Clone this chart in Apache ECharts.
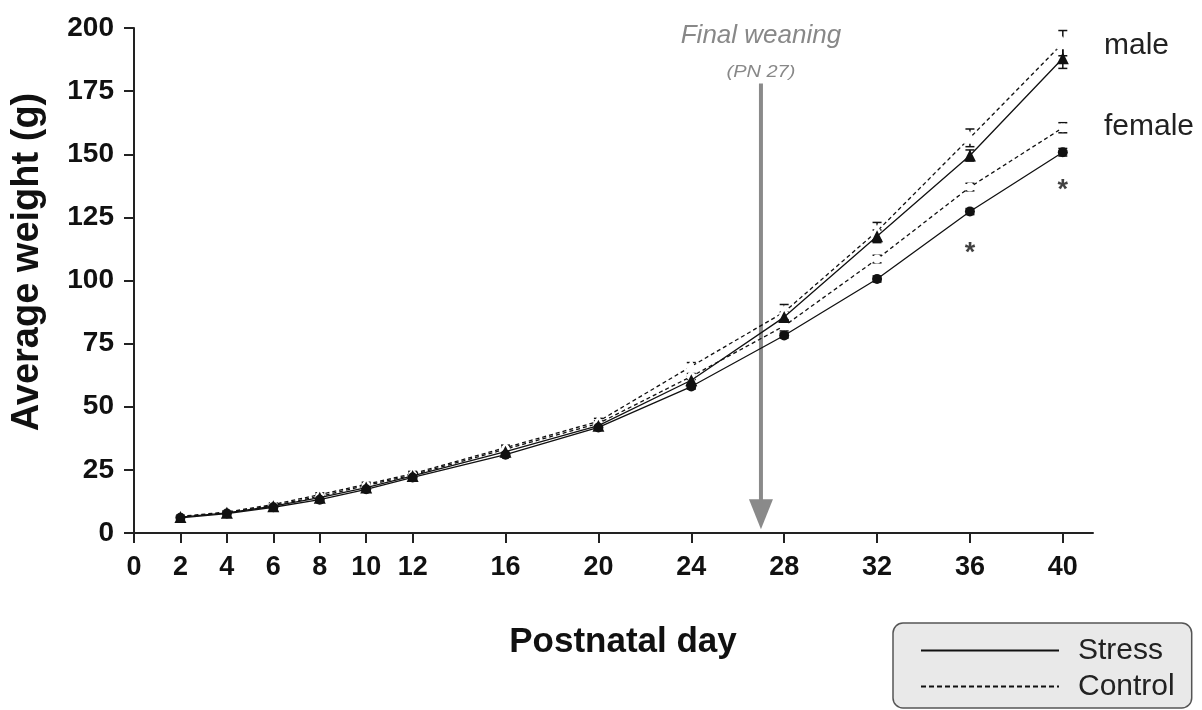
<!DOCTYPE html>
<html>
<head>
<meta charset="utf-8">
<script src="https://cdn.jsdelivr.net/npm/echarts@6/dist/echarts.min.js"></script>
<style>
  html, body { margin: 0; padding: 0; background: #fff; }
  #chart { width: 1202px; height: 710px; }
</style>
</head>
<body>
<div id="chart"></div>
<script>
// Postnatal days sampled and the labelled ticks on the day axis
const days = [2, 4, 6, 8, 10, 12, 16, 20, 24, 28, 32, 36, 40];
const dayTicks = [0, 2, 4, 6, 8, 10, 12, 16, 20, 24, 28, 32, 36, 40];

// Mean body weight (g) and SEM per group
const maleStress       = [6.3, 8.0, 10.6, 14.0, 18.0, 22.6, 32.2, 42.5, 60.5, 85.5, 117.5, 149.5, 188.0];
const maleStressErr    = [0.4, 0.4, 0.5, 0.6, 0.7, 0.8, 1.0, 1.2, 1.5, 2.0, 2.5, 2.2, 4.0];
const maleControl      = [6.6, 8.3, 11.3, 15.2, 19.3, 23.5, 33.8, 44.2, 66.0, 87.5, 119.5, 156.5, 194.0];
const maleControlErr   = [0.4, 0.5, 0.6, 0.7, 0.8, 0.9, 1.0, 1.2, 1.5, 3.0, 3.5, 3.5, 5.0];
const femaleStress     = [6.0, 7.7, 10.2, 13.2, 17.3, 22.0, 31.0, 41.8, 58.0, 78.2, 100.6, 127.3, 150.8];
const femaleStressErr  = [0.3, 0.3, 0.4, 0.5, 0.6, 0.7, 0.8, 1.0, 1.0, 1.0, 1.2, 1.2, 1.5];
const femaleControl    = [6.4, 8.0, 10.9, 14.5, 18.8, 23.0, 33.2, 43.4, 62.0, 82.0, 108.5, 137.0, 160.5];
const femaleControlErr = [0.3, 0.4, 0.5, 0.5, 0.6, 0.7, 0.8, 1.0, 1.2, 2.0, 1.5, 1.5, 2.0];

// Significance marks (day, weight)
const significance = [[36, 113], [40, 138]];
const weaningDay = 27;

const FONT = 'Liberation Sans, Arial, sans-serif';
const INK = '#111';

const pairs = (ys) => days.map((d, i) => [d, ys[i]]);
const errRows = (ys, es) => days.map((d, i) => [d, ys[i] - es[i], ys[i] + es[i]]);

function errorBarSeries(name, ys, es) {
  return {
    type: 'custom',
    name: name,
    silent: true,
    z: 3,
    data: errRows(ys, es),
    renderItem: function (params, api) {
      const x = api.value(0);
      const lo = api.coord([x, api.value(1)]);
      const hi = api.coord([x, api.value(2)]);
      const cap = 4.5;
      const style = { stroke: INK, lineWidth: 1.5 };
      return {
        type: 'group',
        children: [
          { type: 'line', shape: { x1: lo[0], y1: lo[1], x2: hi[0], y2: hi[1] }, style: style },
          { type: 'line', shape: { x1: hi[0] - cap, y1: hi[1], x2: hi[0] + cap, y2: hi[1] }, style: style },
          { type: 'line', shape: { x1: lo[0] - cap, y1: lo[1], x2: lo[0] + cap, y2: lo[1] }, style: style }
        ]
      };
    }
  };
}

function groupSeries(name, ys, dashed, symbol, size, z) {
  const hollow = symbol.indexOf('empty') === 0;
  return {
    type: 'line',
    name: name,
    data: pairs(ys),
    symbol: symbol,
    symbolSize: size,
    z: z,
    lineStyle: { color: INK, width: 1.3, type: dashed ? [4, 3] : 'solid' },
    itemStyle: { color: hollow ? '#fff' : INK, borderColor: INK, borderWidth: hollow ? 1.6 : 0 },
    emphasis: { disabled: true }
  };
}

const chart = echarts.init(document.getElementById('chart'), null, { renderer: 'canvas' });

const option = {
  animation: false,
  backgroundColor: '#fff',
  textStyle: { fontFamily: FONT },
  grid: { left: 134, right: 109, top: 28, bottom: 177, containLabel: false, outerBoundsMode: 'none' },
  xAxis: {
    type: 'value',
    min: 0,
    max: 41.3,
    axisLine: { lineStyle: { color: '#222', width: 2 } },
    axisTick: { show: true, inside: false, length: 10, lineStyle: { color: '#222', width: 2 }, customValues: dayTicks },
    axisLabel: { customValues: dayTicks, fontSize: 27, fontWeight: 'bold', color: INK, margin: 21, fontFamily: FONT },
    splitLine: { show: false }
  },
  yAxis: {
    type: 'value',
    min: 0,
    max: 200,
    interval: 25,
    axisLine: { show: true, lineStyle: { color: '#222', width: 2 } },
    axisTick: { show: true, inside: false, length: 10, lineStyle: { color: '#222', width: 2 } },
    axisLabel: { fontSize: 28, fontWeight: 'bold', color: INK, margin: 20, fontFamily: FONT },
    splitLine: { show: false }
  },
  legend: {
    orient: 'vertical',
    left: 893,
    top: 623,
    data: ['Stress', 'Control'],
    itemWidth: 138,
    itemHeight: 14,
    itemGap: 3,
    padding: [11, 17, 5, 27],
    backgroundColor: '#e9e9e9',
    borderColor: '#555',
    borderWidth: 1.5,
    borderRadius: 10,
    selectedMode: false,
    itemStyle: { opacity: 0 },
    textStyle: { fontSize: 30, color: '#222', fontFamily: FONT, lineHeight: 33, padding: [0, 0, 0, 14] }
  },
  series: [
    // Legend entries: line style only
    { type: 'line', name: 'Stress', data: [], symbol: 'none', lineStyle: { color: INK, width: 1.4, type: 'solid' }, itemStyle: { color: INK } },
    { type: 'line', name: 'Control', data: [], symbol: 'none', lineStyle: { color: INK, width: 1.4, type: [5, 3] }, itemStyle: { color: INK } },

    errorBarSeries('err-ms', maleStress, maleStressErr),
    errorBarSeries('err-mc', maleControl, maleControlErr),
    errorBarSeries('err-fs', femaleStress, femaleStressErr),
    errorBarSeries('err-fc', femaleControl, femaleControlErr),

    groupSeries('Male control', maleControl, true, 'emptyTriangle', 10, 4),
    groupSeries('Female control', femaleControl, true, 'emptyCircle', 7, 4),
    groupSeries('Male stress', maleStress, false, 'triangle', 12, 5),
    groupSeries('Female stress', femaleStress, false, 'circle', 10, 5),

    {
      type: 'scatter',
      name: 'significance',
      data: significance,
      symbolSize: 0,
      silent: true,
      label: {
        show: true,
        position: 'inside',
        formatter: '*',
        fontSize: 27,
        fontWeight: 'bold',
        color: INK,
        fontFamily: FONT,
        offset: [0, 6]
      }
    }
  ]
};

chart.setOption(option);

// Weaning arrow, titles and group labels
function drawAnnotations() {
  const top = chart.convertToPixel({ xAxisIndex: 0, yAxisIndex: 0 }, [weaningDay, 178]);
  const tip = chart.convertToPixel({ xAxisIndex: 0, yAxisIndex: 0 }, [weaningDay, 1.5]);
  const x = top[0];
  const headH = 30, headW = 24;
  const gray = '#8a8a8a';
  const maleY = chart.convertToPixel({ yAxisIndex: 0 }, 193);
  const femaleY = chart.convertToPixel({ yAxisIndex: 0 }, 161);

  chart.setOption({
    graphic: [
      { type: 'rect', shape: { x: x - 2, y: top[1], width: 4, height: tip[1] - headH - top[1] + 1 }, style: { fill: gray } },
      { type: 'polygon', shape: { points: [[x - headW / 2, tip[1] - headH], [x + headW / 2, tip[1] - headH], [x, tip[1]]] }, style: { fill: gray } },
      { type: 'text', x: x, y: 36, style: { text: 'Final weaning', fill: '#888', font: 'italic 26px ' + FONT, textAlign: 'center', textVerticalAlign: 'middle' } },
      { type: 'text', x: x, y: 73, scaleX: 1.25, style: { text: '(PN 27)', fill: '#888', font: 'italic 16px ' + FONT, textAlign: 'center', textVerticalAlign: 'middle' } },
      { type: 'text', x: 1104, y: maleY, style: { text: 'male', fill: '#222', font: '30px ' + FONT, textAlign: 'left', textVerticalAlign: 'middle' } },
      { type: 'text', x: 1104, y: femaleY, style: { text: 'female', fill: '#222', font: '30px ' + FONT, textAlign: 'left', textVerticalAlign: 'middle' } },
      { type: 'text', x: 623, y: 642, style: { text: 'Postnatal day', fill: INK, font: 'bold 35px ' + FONT, textAlign: 'center', textVerticalAlign: 'middle' } },
      { type: 'text', x: 28, y: 262, rotation: Math.PI / 2, style: { text: 'Average weight (g)', fill: INK, font: 'bold 38px ' + FONT, textAlign: 'center', textVerticalAlign: 'middle' } }
    ]
  });
}
drawAnnotations();
</script>
</body>
</html>
